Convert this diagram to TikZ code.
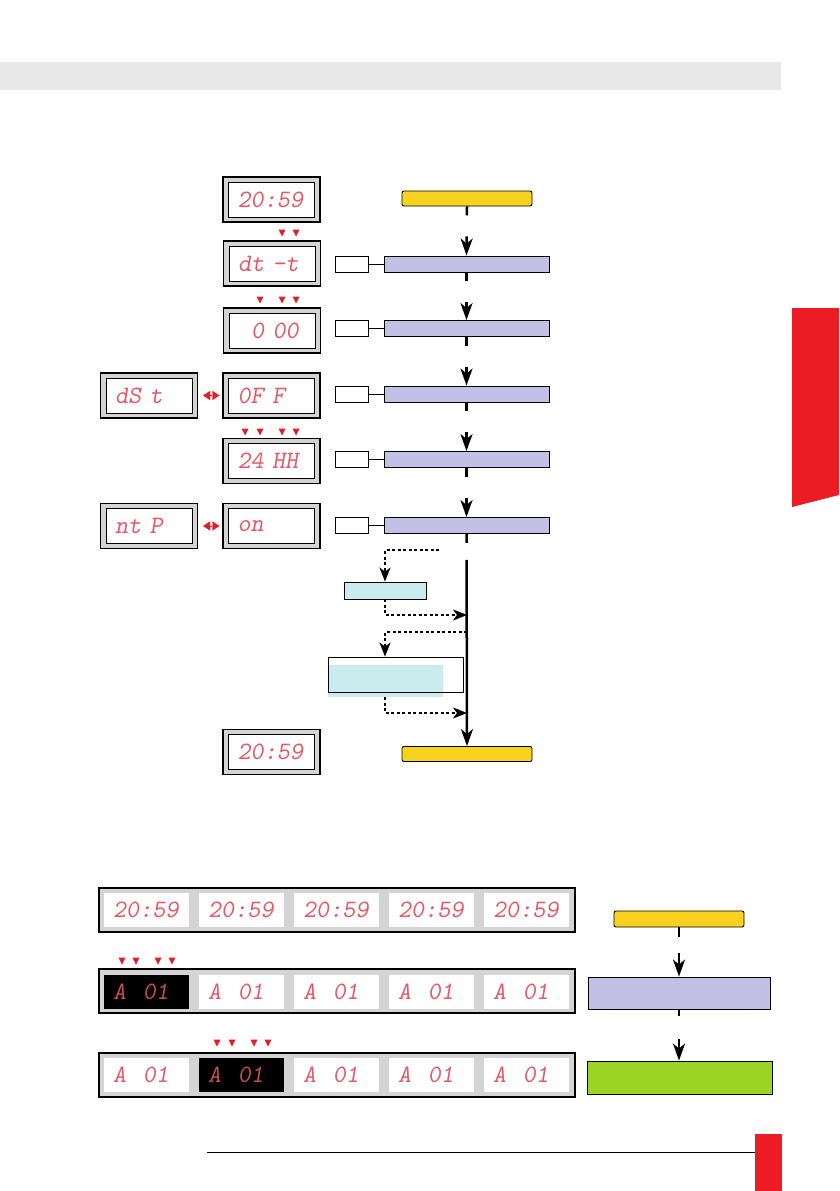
\documentclass[tikz,border=0pt]{standalone}
\usepackage{xcolor}
\definecolor{bandgray}{HTML}{E8E8E8}
\definecolor{tabred}{HTML}{EC1C24}
\definecolor{flowyellow}{HTML}{F9D11F}
\definecolor{flowpurple}{HTML}{C4BFE4}
\definecolor{flowcyan}{HTML}{C9ECEE}
\definecolor{flowgreen}{HTML}{9BD425}
\definecolor{dispgray}{HTML}{D4D4D4}
\definecolor{segred}{HTML}{E65A66}
\definecolor{tipred}{HTML}{E31E24}
\usetikzlibrary{arrows.meta,positioning,calc}
\newcommand{\segfont}{\ttfamily\slshape\fontsize{25}{25}\selectfont}
\newcommand{\nodigit}{\hphantom{0}}
\tikzset{
  fb/.style={draw, line width=0.9pt, inner sep=0pt},
  fyellow/.style={fb, fill=flowyellow, rounded corners=2pt, minimum width=130pt, minimum height=15pt},
  fpurple/.style={fb, fill=flowpurple, minimum width=165pt, minimum height=16pt},
  fkey/.style={fb, fill=white, minimum width=33pt, minimum height=16pt},
  fcyan/.style={fb, fill=flowcyan, minimum width=82pt, minimum height=17pt},
  dispframe/.style={draw, line width=1.1pt, fill=dispgray, minimum width=97pt,
                    minimum height=45pt, inner sep=0pt},
  dispscreen/.style={draw, line width=0.9pt, fill=white, text=segred, font=\segfont,
                     minimum height=35pt, text width=68pt, inner xsep=9pt, inner ysep=0pt, align=left},
  rowbox/.style={draw, line width=1.1pt, fill=dispgray, minimum width=476pt, minimum height=44pt},
  segpanel/.style={fill=white, text=segred, font=\segfont, minimum height=34pt,
                   text width=67pt, inner xsep=9pt, inner ysep=0pt, align=left},
  segdark/.style={segpanel, fill=black, text=segred!85!black},
  spine/.style={-{Stealth[length=17pt,width=12pt,inset=5pt]}, line width=2.5pt},
  dotar/.style={-{Stealth[length=14pt,width=11pt,inset=4pt]}, line width=1.5pt,
                dash pattern=on 3pt off 2.5pt},
  togglear/.style={{Triangle[length=7pt,width=9pt]}-{Triangle[length=7pt,width=9pt]},
                   tipred, line width=0.1pt, shorten <=5pt, shorten >=3pt},
}
% down marks over the digits
\newcommand{\digitmarks}[2]{%
  \foreach \x in {#1}
    \fill[tipred] (\x-3.5,#2-3.5) -- (\x+3.5,#2-3.5) -- (\x,#2+3.5) -- cycle;}
\newcommand{\display}[3]{%
  \node[dispframe] (#1) at (#2) {};
  \node[dispscreen] (#1s) at (#1.center) {#3};}

\begin{document}
\begin{tikzpicture}[x=1pt, y=-1pt]
  \fill[white] (0,0) rectangle (839,1191);
  \useasboundingbox (0,0) rectangle (839,1191);

  % page decoration
  \fill[bandgray] (0,62) rectangle (781,90);
  \fill[tabred] (792,308) -- (839,308) -- (839,495) -- (792,507) -- cycle;
  \draw[line width=1pt] (207,1152) -- (757,1152);
  \fill[tabred] (755,1134) rectangle (782,1191);

  % displays
  \display{clk}{271.5,199.5}{20:59}
  \display{dt}{272,263.5}{dt~-t}
  \display{zero}{272,330.5}{\nodigit 0~00}
  \display{off}{271.5,395.5}{0F~F}
  \display{dst}{149,395.5}{dS~t}
  \display{hh}{271.5,461}{24~HH}
  \display{on}{271.5,526}{on}
  \display{ntp}{149,526}{nt~P}
  \display{clkend}{271.5,752}{20:59}
  \digitmarks{282,296}{233}
  \digitmarks{260,282,296}{300}
  \digitmarks{245,260,282,296}{432}
  \draw[togglear] (dst) -- (off);
  \draw[togglear] (ntp) -- (on);

  % menu flow
  \node[fyellow] (y1) at (467,198.5) {};
  \node[fpurple] (p1) at (466.5,264) {};
  \node[fpurple] (p2) at (466.5,328.5) {};
  \node[fpurple] (p3) at (466.5,394) {};
  \node[fpurple] (p4) at (466.5,459.5) {};
  \node[fpurple] (p5) at (466.5,525.5) {};
  \node[fyellow] (y2) at (467,754) {};
  \foreach \i in {1,...,5} {
    \node[fkey, left=15pt of p\i] (k\i) {};
    \draw[line width=0.9pt] (k\i) -- (p\i);
  }
  \draw[spine, dash pattern=on 9pt off 21pt on 200pt] (y1.south) -- (p1.north);
  \foreach \a/\b in {p1/p2,p2/p3,p3/p4,p4/p5}
    \draw[spine, dash pattern=on 9pt off 21pt on 200pt] (\a.south) -- (\b.north);
  \draw[spine, dash pattern=on 9pt off 17pt on 400pt] (p5.south) -- (y2.north);

  % optional branches
  \node[fcyan] (c1) at (385,590.5) {};
  \node[fill=flowcyan, minimum width=115pt, minimum height=32pt, inner sep=0pt] (wf) at (385.5,681) {};
  \node[fb, minimum width=135pt, minimum height=35pt] (w1) at (395.5,674.5) {};
  \coordinate (b1) at (439,550);
  \coordinate (j1) at (467,615);
  \coordinate (b2) at (467,632);
  \coordinate (j2) at (467,713);
  \draw[dotar] (b1) -| (c1.north);
  \draw[dotar] (c1.south) |- (j1);
  \draw[dotar] (b2) -| (w1.north -| c1.north);
  \draw[dotar] (wf.south -| c1.south) |- (j2);

  % row displays
  \node[rowbox] (row1) at (337,910) {};
  \node[rowbox] (row2) at (337,991) {};
  \node[rowbox] (row3) at (337,1075) {};
  \foreach \i in {1,...,5}
    \node[segpanel] (a\i) at ({51.5+95*\i},910) {20:59};
  \foreach \i/\st in {1/segdark,2/segpanel,3/segpanel,4/segpanel,5/segpanel}
    \node[\st] (b\i) at ({51.5+95*\i},991.5) {A~~01};
  \foreach \i/\st in {1/segpanel,2/segdark,3/segpanel,4/segpanel,5/segpanel}
    \node[\st] (c\i) at ({51.5+95*\i},1074.5) {A~~01};
  \digitmarks{122,136,158,172}{961}
  \digitmarks{217,232,254,268}{1043}

  % row flow
  \node[fyellow, minimum height=16pt] (yb) at (679,919) {};
  \node[fb, fill=flowpurple, minimum width=182pt, minimum height=32pt] (pb) at (679,993) {};
  \node[fb, fill=flowgreen, minimum width=185pt, minimum height=33pt] (gb) at (680,1077.5) {};
  \draw[spine, dash pattern=on 10pt off 16pt on 200pt] (yb.south) -- (pb.north);
  \draw[spine, dash pattern=on 7pt off 23pt on 200pt] (pb.south) -- (pb.south |- gb.north);
\end{tikzpicture}
\end{document}
